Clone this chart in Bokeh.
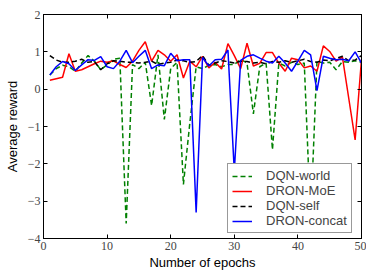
from bokeh.plotting import figure
from bokeh.models import LinearAxis, FixedTicker, Range1d, Legend, LegendItem
from bokeh.embed import file_html
from bokeh.resources import INLINE

epochs = list(range(1, 51))

dqn_world = [0.38, 0.55, 0.64, 0.60, 0.48, 0.70, 0.90, 0.75, 0.52, 0.65,
             0.80, 0.83, -3.60, 0.66, 0.55, 0.72, -0.44, 0.92, -0.81, 0.55,
             0.72, -2.55, -0.92, 0.60, 0.55, 0.64, 0.66, 0.60, 0.66, 0.66,
             0.80, 0.70, -0.66, 0.60, 0.70, -1.62, 0.70, 0.62, 0.72, 0.66,
             0.70, -3.50, 0.75, 0.70, 0.72, 0.52, 0.74, 0.72, 0.76, 0.72]

dron_moe = [0.24, 0.28, 0.32, 0.95, 0.48, 0.52, 0.60, 0.68, 0.75, 0.72,
            0.76, 0.66, 0.58, 0.75, 1.04, 1.27, 0.75, 1.04, 0.92, 0.75,
            0.92, 0.30, 0.75, 0.60, 0.88, 0.57, 0.72, 0.54, 1.22, 0.90,
            0.55, 1.23, 0.62, 0.69, 0.98, 0.98, 0.70, 0.48, 0.83, 0.79,
            0.57, 0.62, 0.48, 1.16, 1.01, 0.75, 0.86, -0.25, -1.36, 0.80]

dqn_self = [0.90, 0.78, 0.72, 0.72, 0.75, 0.80, 0.72, 0.74, 0.52, 0.68,
            0.76, 0.75, 0.72, 0.72, 0.70, 0.72, 0.75, 0.66, 0.70, 0.72,
            0.78, 0.76, 0.72, 0.74, 0.90, 0.64, 0.70, 0.76, 0.74, 0.70,
            0.75, 0.74, 0.70, 0.72, 0.68, 0.74, 0.72, 0.76, 0.72, 0.76,
            0.80, 0.74, 0.72, 0.78, 0.76, 0.82, 0.88, 0.76, 0.78, 0.90]

dron_concat = [0.38, 0.60, 0.74, 0.68, 0.50, 0.65, 0.79, 0.77, 0.87, 0.60,
               0.55, 0.75, 1.04, 0.71, 0.88, 1.04, 0.55, 0.65, 0.63, 0.96,
               0.76, 0.79, 0.79, -3.30, 0.85, 0.62, 0.79, 0.80, 1.05, -2.20,
               0.77, 0.88, 0.92, 0.83, 0.75, 0.70, 0.88, 0.70, 0.48, 0.75,
               1.04, 0.92, -0.04, 0.88, 0.83, 0.79, 0.80, 0.76, 1.00, 0.70]

series_names = ["DQN-world", "DRON-MoE", "DQN-self", "DRON-concat"]
x_ticks = [0, 10, 20, 30, 40, 50]
y_ticks = [-4, -3, -2, -1, 0, 1, 2]
y_tick_labels = ["\u22124", "\u22123", "\u22122", "\u22121", "0", "1", "2"]

p = figure(width=366, height=272, output_backend="svg", toolbar_location=None,
           x_range=Range1d(0, 50), y_range=Range1d(-4, 2),
           min_border_left=43, min_border_right=5, min_border_top=14,
           min_border_bottom=30, background_fill_color="white")
p.xgrid.visible = False
p.ygrid.visible = False
p.outline_line_color = "black"
p.outline_line_width = 1

tick_font = "Liberation Serif"
for ax in (p.xaxis[0], p.yaxis[0]):
    ax.major_tick_in = 4
    ax.major_tick_out = 0
    ax.minor_tick_in = 0
    ax.minor_tick_out = 0
    ax.axis_line_color = "black"
    ax.major_tick_line_color = "black"
    ax.major_label_text_font = tick_font
    ax.major_label_text_font_size = "12px"
    ax.major_label_text_color = "#444444"
    ax.axis_label_text_font = "Liberation Sans"
    ax.axis_label_text_font_size = "13px"
    ax.axis_label_text_font_style = "normal"
    ax.axis_label_text_color = "black"

p.xaxis[0].ticker = FixedTicker(ticks=x_ticks)
p.yaxis[0].ticker = FixedTicker(ticks=y_ticks)
p.yaxis[0].major_label_overrides = {t: l for t, l in zip(y_ticks, y_tick_labels)}
p.xaxis[0].axis_label = "Number of epochs"
p.yaxis[0].axis_label = "Average reward"
p.xaxis[0].major_label_standoff = 3
p.yaxis[0].major_label_standoff = 3
p.xaxis[0].axis_label_standoff = 2
p.yaxis[0].axis_label_standoff = 5

top = LinearAxis(ticker=FixedTicker(ticks=x_ticks),
                 major_label_overrides={t: "" for t in x_ticks},
                 major_label_standoff=0, major_tick_in=4, major_tick_out=0,
                 minor_tick_in=0, minor_tick_out=0, axis_line_color="black")
right = LinearAxis(ticker=FixedTicker(ticks=y_ticks),
                   major_label_overrides={t: "" for t in y_ticks},
                   major_label_standoff=0, major_tick_in=4, major_tick_out=0,
                   minor_tick_in=0, minor_tick_out=0, axis_line_color="black")
p.add_layout(top, "above")
p.add_layout(right, "right")

r1 = p.line(epochs, dqn_world, line_color="#008000", line_width=1.5, line_dash="5 3")
r2 = p.line(epochs, dron_moe, line_color="#ff0000", line_width=1.5)
r3 = p.line(epochs, dqn_self, line_color="black", line_width=1.5, line_dash="5 3")
r4 = p.line(epochs, dron_concat, line_color="#0000ff", line_width=1.5)

legend = Legend(items=[LegendItem(label=n, renderers=[r]) for n, r in
                       zip(series_names, [r1, r2, r3, r4])],
                location=(184, 5), label_text_font="Liberation Sans",
                label_text_font_size="13px", glyph_width=20, glyph_height=14,
                label_height=14, label_standoff=14, spacing=0, padding=4,
                border_line_color="#333333", border_line_width=1.5,
                background_fill_color="white", background_fill_alpha=1.0,
                margin=0)
p.add_layout(legend)

open("out.html", "w").write(file_html(p, INLINE))
